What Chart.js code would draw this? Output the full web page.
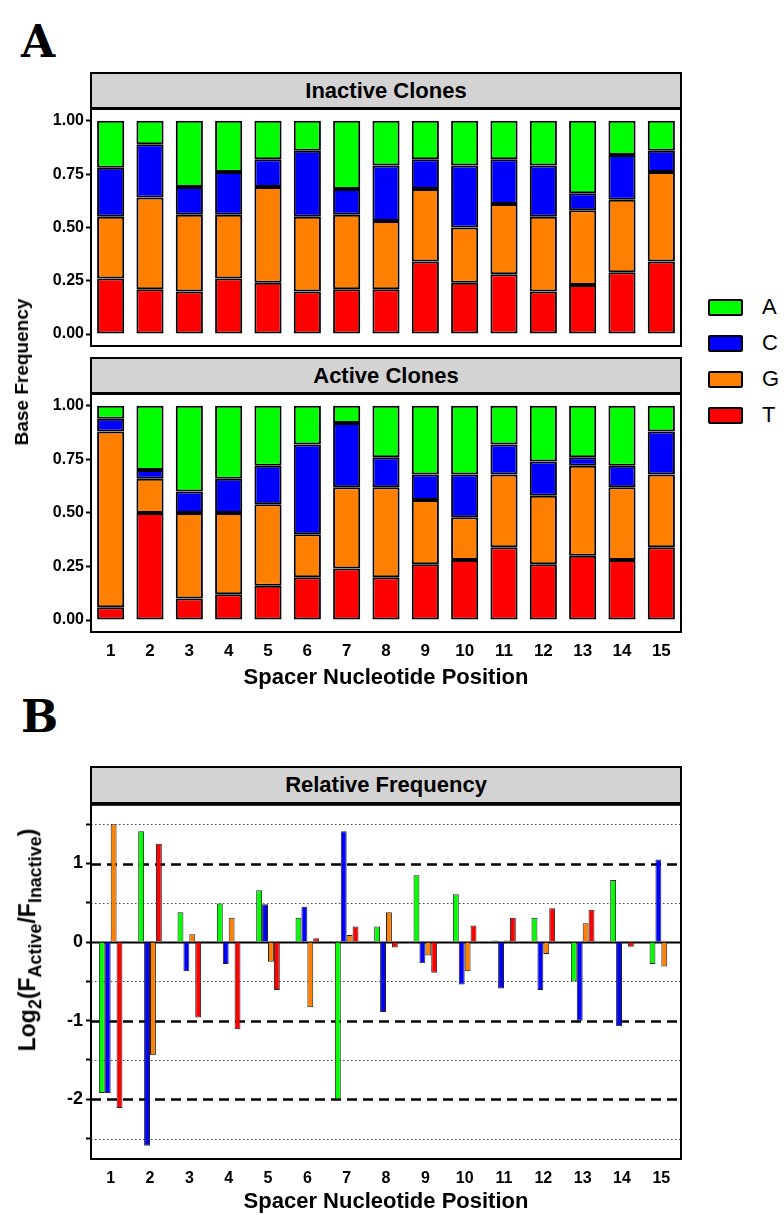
<!DOCTYPE html>
<html>
<head>
<meta charset="utf-8">
<script src="https://cdn.jsdelivr.net/npm/chart.js@4.4.1/dist/chart.umd.min.js"></script>
<style>
  body { margin:0; background:#fff; width:784px; height:1215px; position:relative; overflow:hidden;
         font-family:'Liberation Sans', Arial, sans-serif; color:#000; }
  canvas { position:absolute; left:0; }
  .letter { position:absolute; font-family:'DejaVu Serif','Courier New',serif; font-weight:bold; font-size:44px; line-height:44px; }
  .strip { position:absolute; left:90px; width:592px; height:38px; box-sizing:border-box; background:#d3d3d3;
           border:2px solid #000; text-align:center; font-weight:bold; font-size:22px; line-height:34px; }
  .rot { position:absolute; transform:translate(-50%,-50%) rotate(-90deg); white-space:nowrap; font-weight:bold; }
  .xtitle { position:absolute; left:91px; width:590px; text-align:center; font-weight:bold; font-size:22px; line-height:24px; }
  .leg { position:absolute; left:708px; width:35px; height:17px; box-sizing:border-box; border:2px solid #000; border-radius:2px; }
  .legt { position:absolute; left:762px; font-size:22px; line-height:22px; }
  sub { font-size:78%; }
</style>
</head>
<body>
<div class="letter" style="left:21px;top:20px;">A</div>
<div class="letter" style="left:21px;top:695px;">B</div>

<div class="strip" style="top:72px;">Inactive Clones</div>
<div class="strip" style="top:357px;">Active Clones</div>
<div class="strip" style="top:766px;">Relative Frequency</div>

<canvas id="cInactive" width="700" height="262" style="top:96px"></canvas>
<canvas id="cActive" width="700" height="294" style="top:381px"></canvas>
<canvas id="cRel" width="700" height="404" style="top:791px"></canvas>

<div class="rot" style="left:22px;top:372px;font-size:19px;">Base Frequency</div>
<div class="rot" style="left:30px;top:940px;font-size:23px;">Log<sub>2</sub>(F<sub>Active</sub>/F<sub>Inactive</sub>)</div>
<div class="xtitle" style="top:665px;">Spacer Nucleotide Position</div>
<div class="xtitle" style="top:1189px;">Spacer Nucleotide Position</div>

<div class="leg" style="top:299px;background:#00ff00"></div><div class="legt" style="top:296px">A</div>
<div class="leg" style="top:335px;background:#0000ff"></div><div class="legt" style="top:332px">C</div>
<div class="leg" style="top:371px;background:#ff8000"></div><div class="legt" style="top:368px">G</div>
<div class="leg" style="top:407px;background:#ff0000"></div><div class="legt" style="top:404px">T</div>

<script>
// spacer positions
const positions = ['1','2','3','4','5','6','7','8','9','10','11','12','13','14','15'];

// base frequencies, inactive clones
const inactiveA = [0.22,0.11,0.31,0.24,0.18,0.14,0.32,0.21,0.18,0.21,0.18,0.21,0.34,0.16,0.14];
const inactiveC = [0.23,0.25,0.13,0.20,0.13,0.31,0.12,0.26,0.14,0.29,0.21,0.24,0.08,0.21,0.10];
const inactiveG = [0.29,0.43,0.36,0.30,0.45,0.35,0.35,0.32,0.34,0.26,0.33,0.35,0.35,0.34,0.42];
const inactiveT = [0.26,0.21,0.20,0.26,0.24,0.20,0.21,0.21,0.34,0.24,0.28,0.20,0.23,0.29,0.34];

// base frequencies, active clones
const activeA = [0.06,0.30,0.40,0.34,0.28,0.18,0.08,0.24,0.32,0.32,0.18,0.26,0.24,0.28,0.12];
const activeC = [0.06,0.04,0.10,0.16,0.18,0.42,0.30,0.14,0.12,0.20,0.14,0.16,0.04,0.10,0.20];
const activeG = [0.82,0.16,0.40,0.38,0.38,0.20,0.38,0.42,0.30,0.20,0.34,0.32,0.42,0.34,0.34];
const activeT = [0.06,0.50,0.10,0.12,0.16,0.20,0.24,0.20,0.26,0.28,0.34,0.26,0.30,0.28,0.34];

// log2(F active / F inactive)
const relA = [-1.92,1.41,0.38,0.49,0.66,0.31,-2.00,0.20,0.85,0.61,0.02,0.31,-0.50,0.79,-0.28];
const relC = [-1.92,-2.59,-0.37,-0.28,0.48,0.45,1.41,-0.89,-0.27,-0.54,-0.59,-0.61,-1.00,-1.07,1.05];
const relG = [1.50,-1.44,0.10,0.31,-0.25,-0.83,0.09,0.38,-0.17,-0.37,0.02,-0.15,0.24,0.00,-0.31];
const relT = [-2.11,1.25,-0.96,-1.11,-0.61,0.05,0.20,-0.07,-0.39,0.21,0.31,0.43,0.41,-0.06,0.00];

// tick values
const freqTicks = [0, 0.25, 0.5, 0.75, 1];
const relTicks = [-2.5, -2, -1.5, -1, -0.5, 0, 0.5, 1, 1.5];
const relDashed = [-2, -1, 1];
const relDotted = [-2.5, -1.5, -0.5, 0.5, 1.5];

const colors = { A:'#00ff00', C:'#0000ff', G:'#ff8000', T:'#ff0000' };
const sans = "'Liberation Sans',Arial,sans-serif";

const boxPlugin = {
  id: 'box',
  afterDraw(chart){
    const { ctx, chartArea:a } = chart;
    ctx.save();
    ctx.lineWidth = 2; ctx.strokeStyle = '#000';
    ctx.strokeRect(a.left, a.top, a.width, a.height);
    ctx.restore();
  }
};

const refLines = {
  id: 'refLines',
  beforeDatasetsDraw(chart){
    const { ctx, chartArea:a, scales:{ y } } = chart;
    const line = (v, w, col, dash) => {
      const py = Math.round(y.getPixelForValue(v)) + 0.5;
      ctx.save();
      ctx.lineWidth = w; ctx.strokeStyle = col; ctx.setLineDash(dash);
      ctx.beginPath(); ctx.moveTo(a.left, py); ctx.lineTo(a.right, py); ctx.stroke();
      ctx.restore();
    };
    relDotted.forEach(v => line(v, 1, '#444', [1.5, 2.5]));
    relDashed.forEach(v => line(v, 2.5, '#000', [10, 6]));
    line(0, 2, '#000', []);
  }
};

function freqChart(id, a, c, g, t, showX){
  const seg = (label, data, col) => ({ label, data, backgroundColor: col, borderColor:'#000',
                                       borderWidth:2, borderSkipped:false, barPercentage:0.69, categoryPercentage:1 });
  return new Chart(document.getElementById(id), {
    type: 'bar',
    data: { labels: positions, datasets: [
      seg('T', t, colors.T), seg('G', g, colors.G), seg('C', c, colors.C), seg('A', a, colors.A)
    ]},
    plugins: [boxPlugin],
    options: {
      responsive:false, animation:false, devicePixelRatio:1,
      layout: { padding: { top:12, right:19, bottom: showX ? 0 : 12, left:0 } },
      plugins: { legend:{ display:false }, tooltip:{ enabled:false } },
      scales: {
        x: {
          display: showX, stacked:true,
          grid:{ display:false, drawTicks:false }, border:{ display:false },
          ticks:{ color:'#000', padding:9, font:{ family:sans, weight:'bold', size:17 } },
          afterFit(s){ if (showX) s.height = 43; }
        },
        y: {
          stacked:true, min:-0.056, max:1.06,
          afterBuildTicks(s){ s.ticks = freqTicks.map(v => ({ value:v })); },
          grid:{ drawOnChartArea:false, drawTicks:true, tickLength:5, tickWidth:2, tickColor:'#000' },
          border:{ display:false },
          ticks:{ color:'#000', padding:2, font:{ family:sans, weight:'bold', size:16 },
                  callback:v => Number(v).toFixed(2) },
          afterFit(s){ s.width = 91; }
        }
      }
    }
  });
}

freqChart('cInactive', inactiveA, inactiveC, inactiveG, inactiveT, false);
freqChart('cActive', activeA, activeC, activeG, activeT, true);

const relBar = (label, data, col) => ({ label, data, backgroundColor: col, borderColor:'#222',
                                        borderWidth:1, barPercentage:1, categoryPercentage:0.6 });
new Chart(document.getElementById('cRel'), {
  type: 'bar',
  data: { labels: positions, datasets: [
    relBar('A', relA, colors.A), relBar('C', relC, colors.C), relBar('G', relG, colors.G), relBar('T', relT, colors.T)
  ]},
  plugins: [refLines, boxPlugin],
  options: {
    responsive:false, animation:false, devicePixelRatio:1,
    layout: { padding: { top:12, right:19, bottom:0, left:0 } },
    plugins: { legend:{ display:false }, tooltip:{ enabled:false } },
    scales: {
      x: {
        grid:{ display:false, drawTicks:false }, border:{ display:false },
        ticks:{ color:'#000', padding:10, font:{ family:sans, weight:'bold', size:16 } },
        afterFit(s){ s.height = 36; }
      },
      y: {
        min:-2.76, max:1.747,
        afterBuildTicks(s){ s.ticks = relTicks.map(v => ({ value:v })); },
        grid:{ drawOnChartArea:false, drawTicks:true, tickLength:5, tickWidth:2, tickColor:'#000' },
        border:{ display:false },
        ticks:{ color:'#000', padding:3, font:{ family:sans, weight:'bold', size:18 },
                callback:v => Number.isInteger(v) ? String(v) : '' },
        afterFit(s){ s.width = 91; }
      }
    }
  }
});
</script>
</body>
</html>
